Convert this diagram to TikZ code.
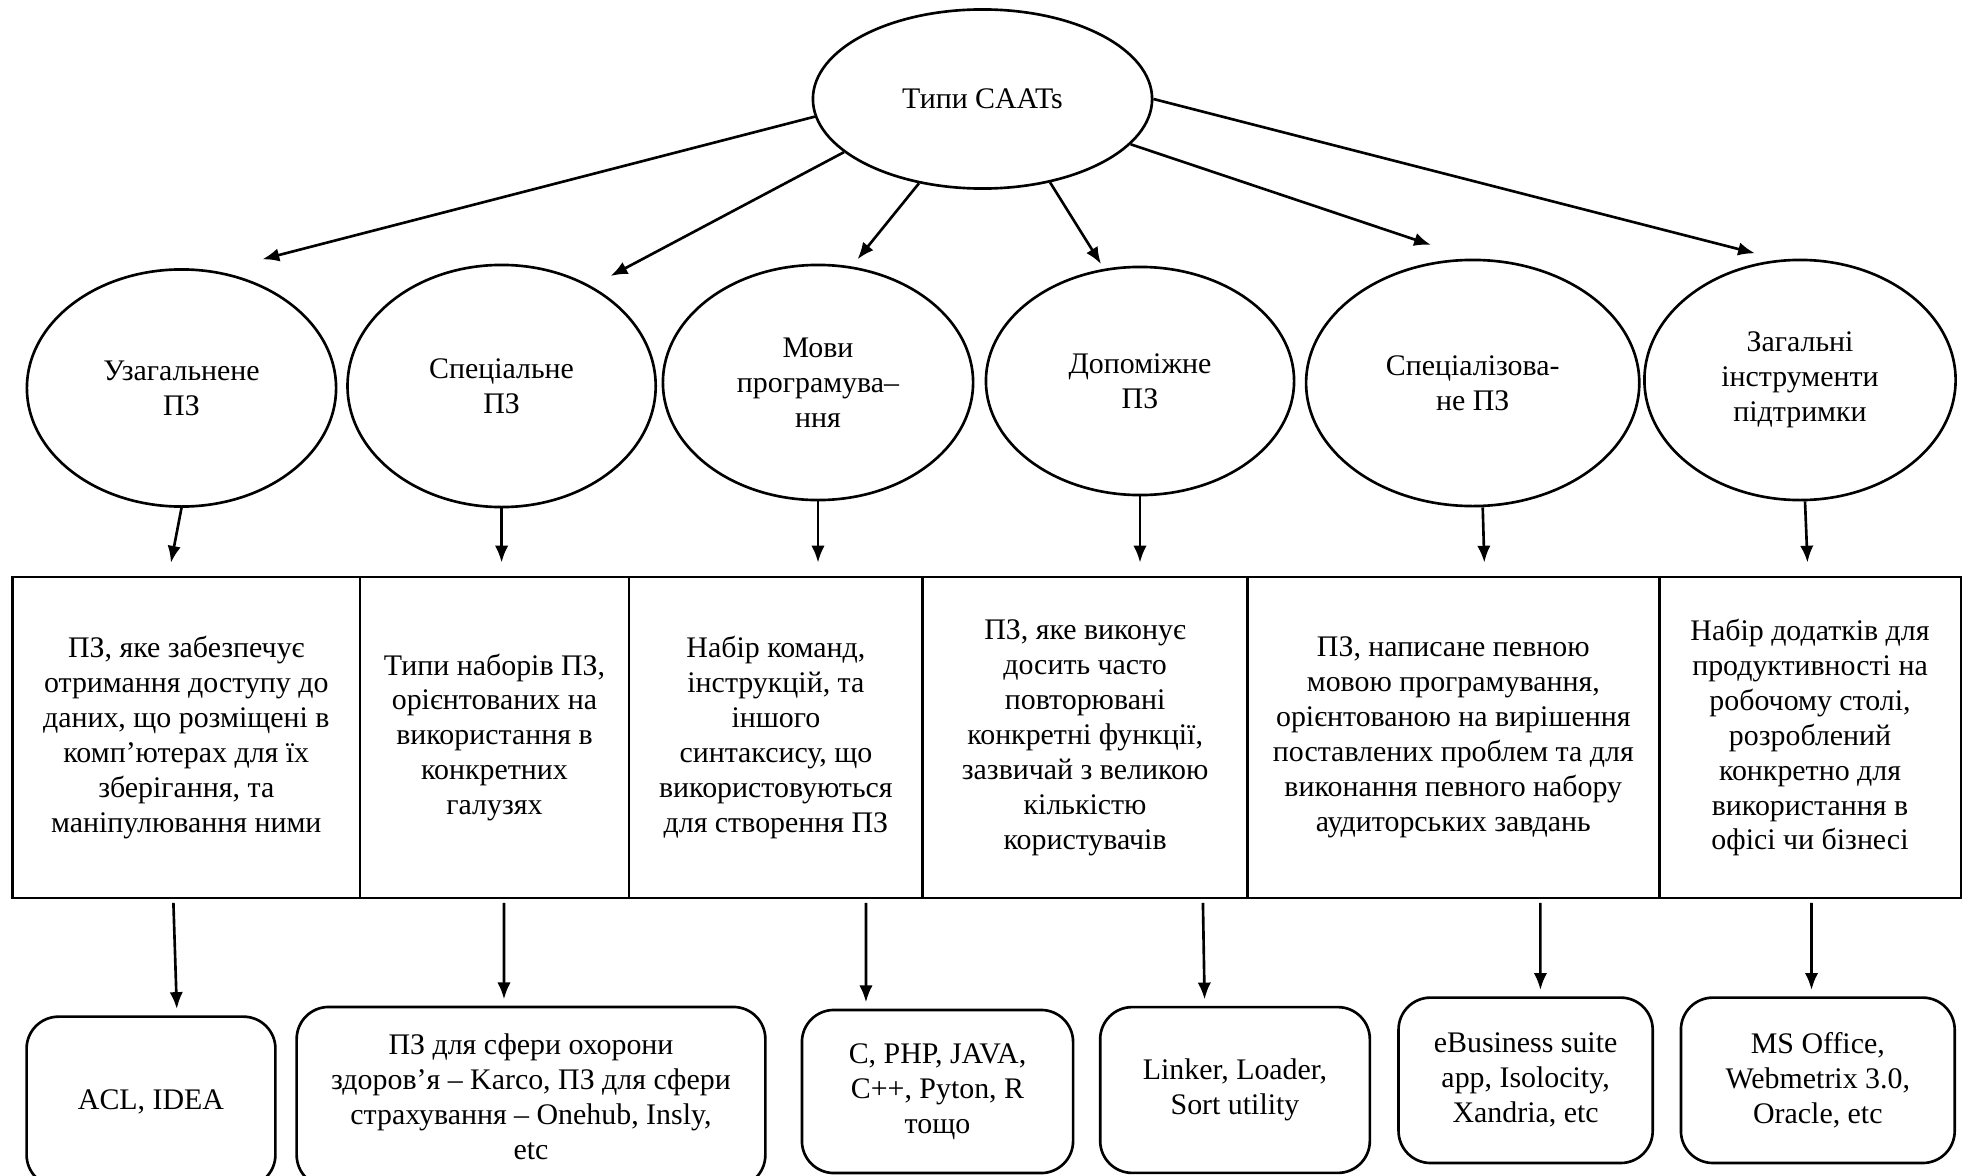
\documentclass[tikz,border=0pt]{standalone}
\usepackage{fontspec}
\setmainfont{Liberation Serif}
\usetikzlibrary{shapes.geometric,arrows.meta}

\begin{document}
\begin{tikzpicture}[x=0.01cm, y=-0.01cm, >={Latex[length=4.8pt,width=3.8pt]},
    line width=0.75pt, font=\fontsize{8.5}{9.95}\selectfont,
    typeell/.style={draw, ellipse, inner sep=0pt, align=center},
    descbox/.style={draw, rectangle, inner sep=0pt, minimum height=3.21cm, align=center},
    exbox/.style={draw, rounded corners=0.32cm, inner sep=0pt, align=center}]

    \useasboundingbox (0,0) rectangle (1964,1176);

    % --- верхній рівень ---
    \node[typeell, minimum width=3.39cm, minimum height=1.79cm] (top) at (982.5,99) {Типи CAATs};

    % --- види ПЗ (еліпси) ---
    \node[typeell, minimum width=3.09cm, minimum height=2.37cm] (e1) at (181.5,388) {Узагальнене\\ПЗ};
    \node[typeell, minimum width=3.08cm, minimum height=2.42cm] (e2) at (501.6,386) {Спеціальне\\ПЗ};
    \node[typeell, minimum width=3.10cm, minimum height=2.35cm] (e3) at (818,382.5) {Мови\\програмува–\\ння};
    \node[typeell, minimum width=3.08cm, minimum height=2.28cm] (e4) at (1140,381) {Допоміжне\\ПЗ};
    \node[typeell, minimum width=3.33cm, minimum height=2.46cm] (e5) at (1472.7,383) {Спеціалізова-\\не ПЗ};
    \node[typeell, minimum width=3.11cm, minimum height=2.40cm] (e6) at (1800,380) {Загальні\\інструменти\\підтримки};

    % --- опис (рядок прямокутників) ---
    \node[descbox, minimum width=3.474cm] (r1) at (186.3,737.5) {ПЗ, яке забезпечує\\отримання доступу до\\даних, що розміщені в\\комп’ютерах для їх\\зберігання, та\\маніпулювання ними};
    \node[descbox, minimum width=2.69cm] (r2) at (494.5,737.5) {Типи наборів ПЗ,\\орієнтованих на\\використання в\\конкретних\\галузях};
    \node[descbox, minimum width=2.937cm] (r3) at (775.9,737.5) {Набір команд,\\інструкцій, та\\іншого\\синтаксису, що\\використовуються\\для створення ПЗ};
    \node[descbox, minimum width=3.248cm] (r4) at (1085.1,737.5) {ПЗ, яке виконує\\досить часто\\повторювані\\конкретні функції,\\зазвичай з великою\\кількістю\\користувачів};
    \node[descbox, minimum width=4.115cm] (r5) at (1453.3,737.5) {ПЗ, написане певною\\мовою програмування,\\орієнтованою на вирішення\\поставлених проблем та для\\виконання певного набору\\аудиторських завдань};
    \node[descbox, minimum width=3.02cm] (r6) at (1810,737.5) {Набір додатків для\\продуктивності на\\робочому столі,\\розроблений\\конкретно для\\використання в\\офісі чи бізнесі};

    % --- приклади (заокруглені блоки) ---
    \node[exbox, minimum width=2.487cm, minimum height=1.70cm] (b1) at (151,1101.7) {ACL, IDEA};
    \node[exbox, minimum width=4.684cm, minimum height=1.80cm] (b2) at (531,1097) {ПЗ для сфери охорони\\здоров’я – Karco, ПЗ для сфери\\страхування – Onehub, Insly,\\etc};
    \node[exbox, minimum width=2.71cm, minimum height=1.63cm] (b3) at (937.5,1091.5) {C, PHP, JAVA,\\C++, Pyton, R\\тощо};
    \node[exbox, minimum width=2.695cm, minimum height=1.657cm] (b4) at (1235,1090) {Linker, Loader,\\Sort utility};
    \node[exbox, minimum width=2.54cm, minimum height=1.653cm] (b5) at (1525.6,1080.3) {eBusiness suite\\app, Isolocity,\\Xandria, etc};
    \node[exbox, minimum width=2.736cm, minimum height=1.653cm] (b6) at (1817.8,1080.3) {MS Office,\\Webmetrix 3.0,\\Oracle, etc};

    % кінці стрілок від верхнього еліпса
    \coordinate (t1) at (262.4,259.3);
    \coordinate (t2) at (610.6,276);
    \coordinate (t3) at (857.5,259.3);
    \coordinate (t4) at (1101,264);
    \coordinate (t5) at (1431,245);
    \coordinate (t6) at (1755,253.3);

    \draw[->] (top.186) -- (t1);
    \draw[->] (top.201) -- (t2);
    \draw[->] (top.233) -- (t3);
    \draw[->] (top.309) -- (t4);
    \draw[->] (top.343) -- (t5);
    \draw[->] (top.east) -- (t6);

    % еліпси -> опис
    \draw[->, shorten >=0.13cm] (e1.south) -- ([xshift=-0.13cm]e1.south |- r1.north);
    \draw[->, shorten >=0.13cm] (e2.south) -- (e2.south |- r2.north);
    \draw[->, shorten >=0.13cm] (e3.south) -- (e3.south |- r3.north);
    \draw[->, shorten >=0.13cm] (e4.south) -- (e4.south |- r4.north);
    \draw[->, shorten >=0.13cm] ([xshift=0.1cm]e5.south) -- ([xshift=0.12cm]e5.south |- r5.north);
    \draw[->, shorten >=0.13cm] ([xshift=0.05cm]e6.south) -- ([xshift=0.08cm]e6.south |- r6.north);

    % опис -> приклади
    \draw[->, shorten <=1pt, shorten >=1.8pt] ([xshift=-0.13cm]r1.south) -- ([xshift=0.26cm]b1.north);
    \draw[->, shorten <=1pt, shorten >=1.8pt] ([xshift=0.095cm]r2.south) -- ([xshift=-0.27cm]b2.north);
    \draw[->, shorten <=1pt, shorten >=1.8pt] ([xshift=0.90cm]r3.south) -- ([xshift=-0.715cm]b3.north);
    \draw[->, shorten <=1pt, shorten >=1.8pt] ([xshift=1.177cm]r4.south) -- ([xshift=-0.303cm]b4.north);
    \draw[->, shorten <=1pt, shorten >=1.8pt] ([xshift=0.87cm]r5.south) -- ([xshift=0.148cm]b5.north);
    \draw[->, shorten <=1pt, shorten >=1.8pt] ([xshift=0.015cm]r6.south) -- ([xshift=-0.063cm]b6.north);
\end{tikzpicture}
\end{document}
